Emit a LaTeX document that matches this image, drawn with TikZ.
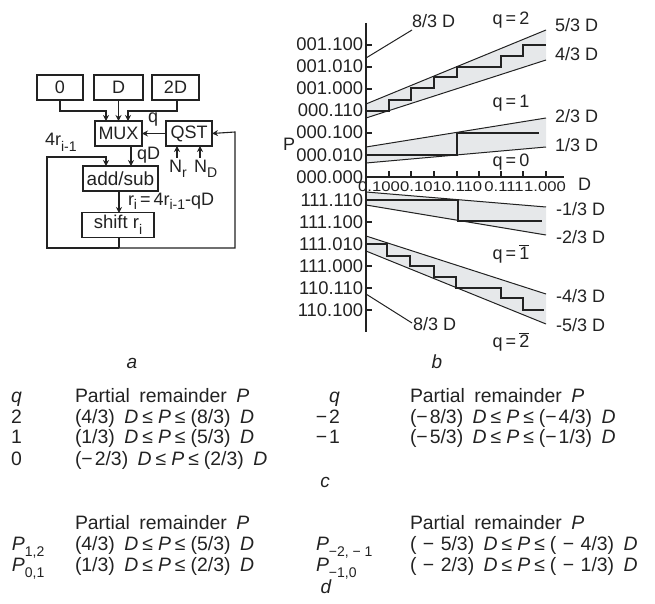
\documentclass[tikz,border=0pt]{standalone}
\usepackage{fontspec}
\setmainfont{Liberation Sans}
\usetikzlibrary{arrows.meta}
\definecolor{ink}{HTML}{222222}
\definecolor{bandc}{HTML}{E6E8EA}
\newcommand{\fs}[1]{\fontsize{#1}{#1}\selectfont}
\newcommand{\dn}[1]{\raisebox{-0.32em}{\fs{14}#1}}
\newcommand{\dnt}[1]{\raisebox{-0.22em}{\fs{14}#1}}
\newcommand{\ovl}[1]{$\overline{\mbox{#1}}$}
\newcommand{\ii}[1]{\textit{#1}}
\newcommand{\lee}{\kern4pt≤\kern5pt}
\newcommand{\mn}{−\kern2pt}
\newcommand{\smn}{\kern6.5pt−\kern6.5pt}
\newcommand{\gp}{\kern9.5pt}
\begin{document}
\begin{tikzpicture}[x=1pt,y=-1pt,line join=miter,
  lbl/.style={anchor=base west,inner sep=0pt,outer sep=0pt,text=ink,font=\fs{18}},
  lblr/.style={anchor=base east,inner sep=0pt,outer sep=0pt,text=ink,font=\fs{18.4}},
  lblc/.style={anchor=base,inner sep=0pt,outer sep=0pt,text=ink,font=\fs{18}},
  ticklbl/.style={anchor=base,inner sep=0pt,outer sep=0pt,text=ink,font=\fs{14}},
  tbl/.style={anchor=base west,inner sep=0pt,outer sep=0pt,text=ink,font=\fs{19.4}},
  tblr/.style={anchor=base east,inner sep=0pt,outer sep=0pt,text=ink,font=\fs{19.4}},
  capt/.style={anchor=base,inner sep=0pt,outer sep=0pt,text=ink,font=\fs{19}\itshape},
  bx/.style={draw=ink,line width=1.1pt,inner sep=0pt,outer sep=0pt,text=ink,font=\fs{18},minimum height=25pt},
  wire/.style={draw=ink,line width=1.1pt},
  arr/.style={wire,-{Stealth[length=6pt,width=6pt]}},
  thinl/.style={draw=ink,line width=1pt},
  stair/.style={draw=ink,line width=1.9pt}]
\useasboundingbox (0,0) rectangle (655,604);
% --- block diagram a
\node[bx,minimum width=46pt] (n0) at (60,87.5) {0};
\node[bx,minimum width=49pt] (nD) at (118.5,87.5) {D};
\node[bx,minimum width=47pt] (n2D) at (175.5,87.5) {2D};
\node[bx,minimum width=47pt] (mux) at (118.5,133.5) {MUX};
\node[bx,minimum width=46pt] (qst) at (189,133.5) {QST};
\node[bx,minimum width=75pt,font=\fs{19}] (add) at (120.5,178.5) {add/sub};
\node[bx,minimum width=72pt,font=\fs{18.5}] (shift) at (118,225) {shift r\dn{i}};
\coordinate (m1) at (106,121);
\coordinate (m3) at (128,121);
\coordinate (s0) at (60,100);
\coordinate (s2) at (177,100);
\coordinate (addin) at (131,166);
\coordinate (muxout) at (131,146);
\coordinate (aS) at (119,191);
\coordinate (sN) at (119,213);
\coordinate (sS) at (119,237);
\coordinate (fbjoin) at (119,248);
\coordinate (fbL) at (47,248);
\coordinate (fbLt) at (47,157);
\coordinate (addL) at (106,157);
\coordinate (addL2) at (106,166);
\coordinate (fbR) at (235,248);
\coordinate (fbRt) at (235,132);
\coordinate (nrS) at (177,158);
\coordinate (nrN) at (177,146);
\coordinate (ndS) at (200,158);
\coordinate (ndN) at (200,146);
\draw[arr] (s0) -- (60,111) -- (106,111) -- (m1);
\draw[arr] (nD.south) -- (mux.north);
\draw[arr] (s2) -- (177,111) -- (128,111) -- (m3);
\draw[arr] (qst.west) -- (mux.east);
\draw[arr] (muxout) -- (addin);
\draw[arr] (aS) -- (sN);
\draw[wire] (sS) -- (fbjoin);
\draw[arr] (fbjoin) -- (fbL) -- (fbLt) -- (addL) -- (addL2);
\draw[arr] (fbjoin) -- (fbR) -- (fbRt) -- (qst.east);
\draw[arr] (nrS) -- (nrN);
\draw[arr] (ndS) -- (ndN);
\node[lbl] (t4r) at (45,146) {4r\dn{i-1}};
\node[lbl] (tq) at (148,123) {q};
\node[lbl] (tqD) at (137,160) {qD};
\node[lbl] (tNr) at (169,172) {N\dn{r}};
\node[lbl] (tND) at (194,172) {N\dn{D}};
\node[lbl] (tri) at (128,205.5) {r\dnt{i}\,=\,4r\dnt{i-1}-qD};
% --- bands b
\fill[bandc] (366,104) -- (546,30) -- (546,60) -- (366,118) -- cycle;
\fill[bandc] (366,147) -- (546,118) -- (546,147) -- (366,163) -- cycle;
\fill[bandc] (366,192) -- (546,207) -- (546,235) -- (366,205) -- cycle;
\fill[bandc] (366,236) -- (546,294) -- (546,324) -- (366,251) -- cycle;
\foreach \a/\b/\c/\d in {104/30/118/60,147/118/163/147,192/207/205/235,236/294/251/324}{
  \draw[thinl] (366,\a) -- (546,\b);
  \draw[thinl] (366,\c) -- (546,\d);
}
\draw[thinl] (366,58) -- (412,30);
\draw[thinl] (366,294) -- (412,323);
\draw[stair] (366,111) -- (389,111) -- (389,100) -- (411,100) -- (411,88) -- (434,88) -- (434,77) -- (457,77) -- (457,67) -- (501,67) -- (501,56) -- (523,56) -- (523,45) -- (546,45);
\draw[stair] (366,155) -- (457,155) -- (457,133) -- (539,133);
\draw[stair] (366,200) -- (458,200) -- (458,221) -- (542,221);
\draw[stair] (366,244) -- (387,244) -- (387,256) -- (410,256) -- (410,266) -- (434,266) -- (434,277) -- (456,277) -- (456,288) -- (501,288) -- (501,298) -- (523,298) -- (523,310) -- (544,310);
% axes
\draw[wire] (366,23) -- (366,332);
\draw[wire] (366,177) -- (564,177);
\foreach \x in {389,411,434,457,479,501,523,546}{\draw[wire] (\x,177) -- (\x,171);}
\foreach \y/\t in {45/001.100,67/001.010,89/001.000,111/000.110,133/000.100,155/000.010,177/000.000,200/111.110,222/111.100,244/111.010,266/111.000,288/110.110,310/110.100}{
  \draw[wire] (366,\y) -- (372,\y);
  \node[lblr] at (363,\y+6) {\t};
}
\foreach \x/\t in {379/0.100,421/0.101,462/0.110,504/0.111,545/1.000}{
  \node[ticklbl] at (\x,191) {\scalebox{1.19}[1]{\t}};
}
\node[lbl] (tP) at (283,150) {P};
\node[lbl] (tD) at (578,190) {D};
\node[lbl] (e83a) at (412,28) {8/3 D};
\node[lbl] (e83b) at (413,330) {8/3 D};
\node[lbl] at (555,32) {5/3 D};
\node[lbl] at (555,61) {4/3 D};
\node[lbl] at (555,123) {2/3 D};
\node[lbl] at (555,152) {1/3 D};
\node[lbl] at (556,215) {-1/3 D};
\node[lbl] at (556,243) {-2/3 D};
\node[lbl] at (556,302) {-4/3 D};
\node[lbl] at (556,331) {-5/3 D};
\node[lblc] at (511,25) {q\,=\,2};
\node[lblc] at (511,108) {q\,=\,1};
\node[lblc] at (511,167) {q\,=\,0};
\node[lblc] at (511,259) {q\,=\,\ovl{1}};
\node[lblc] at (511,347) {q\,=\,\ovl{2}};
% captions
\node[capt] at (132,368) {a};
\node[capt] at (437,368) {b};
\node[capt] at (325,487) {c};
\node[capt] at (326,593) {d};
% table c
\node[tbl] at (11,402) {\ii{q}};
\node[tbl] at (75,402) {Partial\gp remainder\gp\ii{P}};
\node[tbl] at (11,423) {2};
\node[tbl] at (75,423) {(4/3)\gp\ii{D}\lee\ii{P}\lee(8/3)\gp\ii{D}};
\node[tbl] at (11,443) {1};
\node[tbl] at (75,443) {(1/3)\gp\ii{D}\lee\ii{P}\lee(5/3)\gp\ii{D}};
\node[tbl] at (11,465) {0};
\node[tbl] at (75,465) {(\mn2/3)\gp\ii{D}\lee\ii{P}\lee(2/3)\gp\ii{D}};
\node[tblr] at (340,402) {\ii{q}};
\node[tbl] at (410,402) {Partial\gp remainder\gp\ii{P}};
\node[tblr] at (340,423) {\mn2};
\node[tbl] at (410,423) {(\mn8/3)\gp\ii{D}\lee\ii{P}\lee(\mn4/3)\gp\ii{D}};
\node[tblr] at (340,443) {\mn1};
\node[tbl] at (410,443) {(\mn5/3)\gp\ii{D}\lee\ii{P}\lee(\mn1/3)\gp\ii{D}};
% table d
\node[tbl] at (75,529) {Partial\gp remainder\gp\ii{P}};
\node[tbl] at (12,550) {\ii{P}\dn{1,2}};
\node[tbl] at (75,550) {(4/3)\gp\ii{D}\lee\ii{P}\lee(5/3)\gp\ii{D}};
\node[tbl] at (12,571) {\ii{P}\dn{0,1}};
\node[tbl] at (75,571) {(1/3)\gp\ii{D}\lee\ii{P}\lee(2/3)\gp\ii{D}};
\node[tbl] at (410,529) {Partial\gp remainder\gp\ii{P}};
\node[tbl] at (316,550) {\ii{P}\dn{−2, − 1}};
\node[tbl] at (410,550) {(\smn5/3)\gp\ii{D}\lee\ii{P}\lee(\smn4/3)\gp\ii{D}};
\node[tbl] at (316,571) {\ii{P}\dn{−1,0}};
\node[tbl] at (410,571) {(\smn2/3)\gp\ii{D}\lee\ii{P}\lee(\smn1/3)\gp\ii{D}};
\end{tikzpicture}
\end{document}
